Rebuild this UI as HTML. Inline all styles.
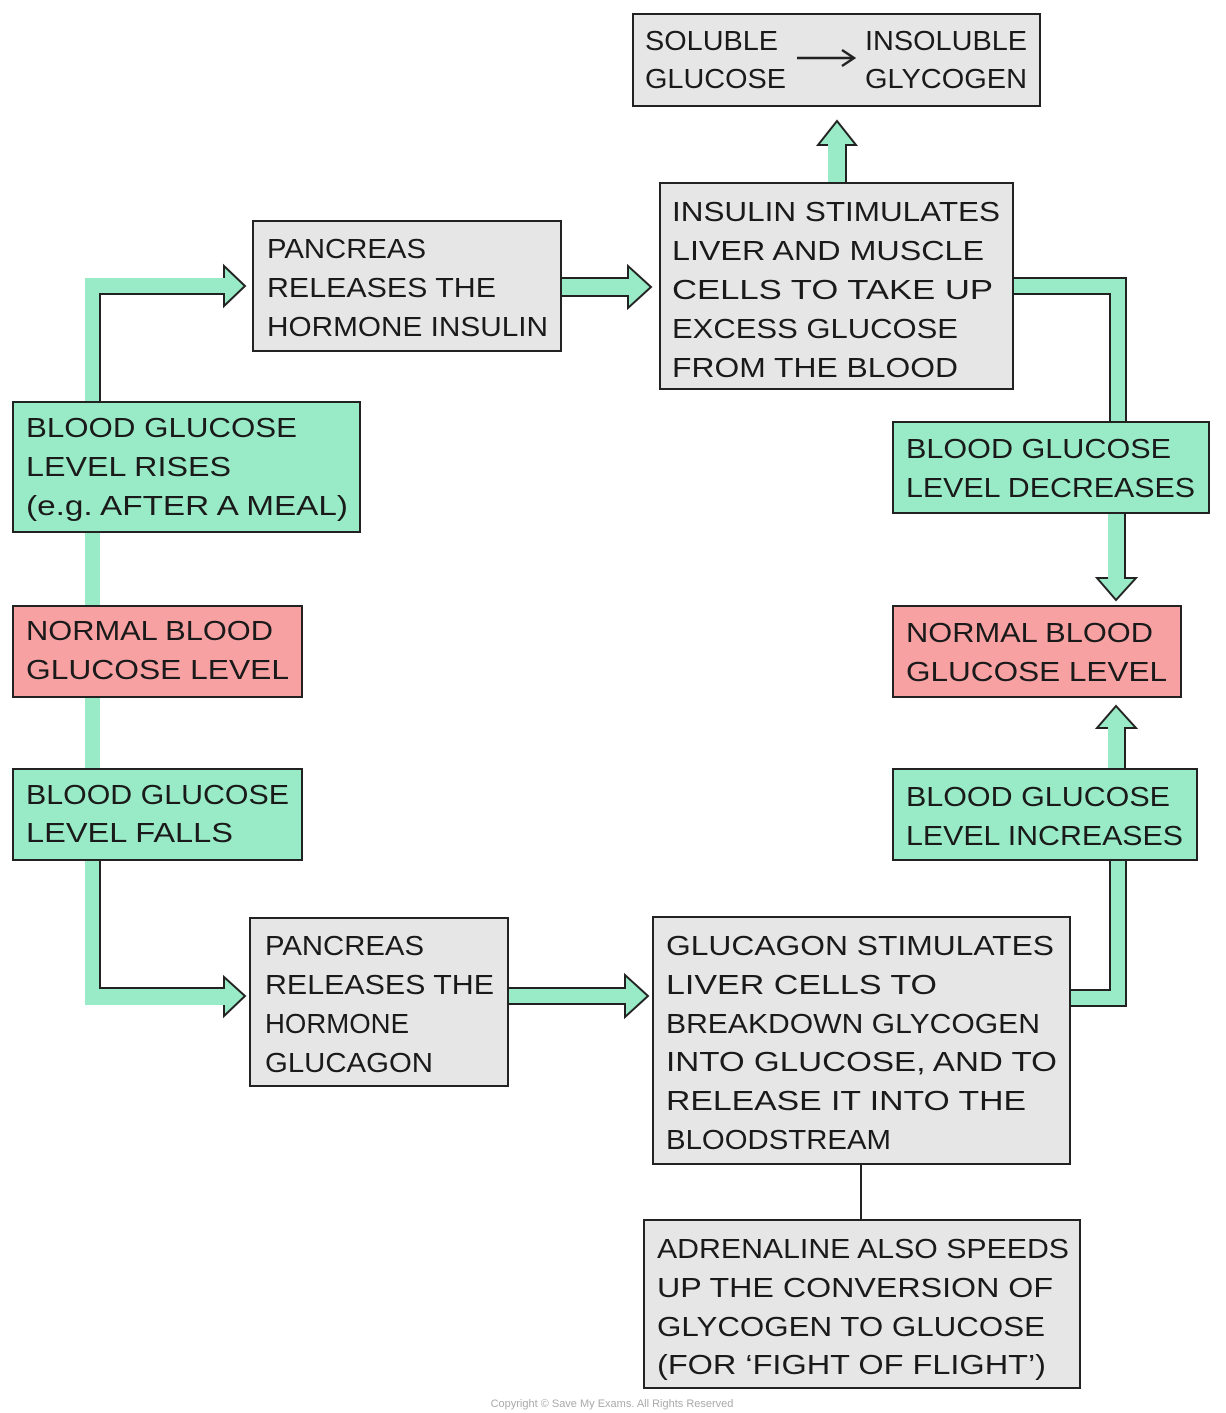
<!DOCTYPE html>
<html><head><meta charset="utf-8"><style>
html,body{margin:0;padding:0;background:#fff;width:1226px;height:1413px;overflow:hidden}
svg{display:block}
text{font-family:"Liberation Sans",sans-serif;font-size:28px;fill:#1a1a1a}
</style></head><body>
<svg width="1226" height="1413" viewBox="0 0 1226 1413" xmlns="http://www.w3.org/2000/svg">
<g fill="#98ebc6" stroke="none">
<!-- left top path -->
<polygon points="85,402 85,278 224,278 224,266 245,286 224,306 224,294 100,294 100,402"/>
<rect x="85" y="532" width="15" height="74"/>
<rect x="85" y="697" width="15" height="72"/>
<polygon points="85,860 85,1005 224,1005 224,1016 245,996 224,977 224,988 100,988 100,860"/>
<!-- pancreas -> insulin -->
<polygon points="561,278 628,278 628,266 651,287 628,308 628,296 561,296"/>
<!-- up to soluble -->
<polygon points="828,183 828,145 818,145 837,121 856,145 846,145 846,183"/>
<!-- right top path -->
<polygon points="1013,278 1126,278 1126,422 1110,422 1110,294 1013,294"/>
<polygon points="1108,513 1108,578 1097,578 1116,600 1136,578 1125,578 1125,513"/>
<polygon points="1108,769 1108,728 1097,728 1116,706 1136,728 1125,728 1125,769"/>
<polygon points="1110,860 1126,860 1126,1006 1070,1006 1070,990 1110,990"/>
<!-- bottom arrow -->
<polygon points="508,988 625,988 625,975 648,996 625,1017 625,1004 508,1004"/>
</g>
<g fill="none" stroke="#222" stroke-width="2">
<polyline points="100,402 100,294 224,294 224,306 245,286 224,266 224,278"/>
<polyline points="100,860 100,988 224,988 224,977 245,996 224,1016 224,1005"/>
<polyline points="561,278 628,278 628,266 651,287 628,308 628,296 561,296"/>
<polyline points="846,183 846,145 856,145 837,121 818,145 828,145"/>
<polyline points="1013,278 1126,278 1126,422"/>
<polyline points="1013,294 1110,294 1110,422"/>
<polyline points="1125,513 1125,578 1136,578 1116,600 1097,578 1108,578"/>
<polyline points="1125,769 1125,728 1136,728 1116,706 1097,728 1108,728"/>
<polyline points="1126,860 1126,1006 1070,1006"/>
<polyline points="1110,860 1110,990 1070,990"/>
<polyline points="508,1004 625,1004 625,1017 648,996 625,975 625,988 508,988"/>
<line x1="861" y1="1164" x2="861" y2="1220"/>
</g>
<g stroke="#222" stroke-width="2">
<rect x="633" y="14" width="407" height="92" fill="#e6e6e6"/>
<rect x="660" y="183" width="353" height="206" fill="#e6e6e6"/>
<rect x="253" y="221" width="308" height="130" fill="#e6e6e6"/>
<rect x="13" y="402" width="347" height="130" fill="#98ebc6"/>
<rect x="13" y="606" width="289" height="91" fill="#f7a1a3"/>
<rect x="13" y="769" width="289" height="91" fill="#98ebc6"/>
<rect x="250" y="918" width="258" height="168" fill="#e6e6e6"/>
<rect x="653" y="917" width="417" height="247" fill="#e6e6e6"/>
<rect x="644" y="1220" width="436" height="168" fill="#e6e6e6"/>
<rect x="893" y="422" width="316" height="91" fill="#98ebc6"/>
<rect x="893" y="606" width="288" height="91" fill="#f7a1a3"/>
<rect x="893" y="769" width="304" height="91" fill="#98ebc6"/>
</g>
<!-- small arrow in soluble box -->
<line x1="797" y1="58" x2="853" y2="58" stroke="#222" stroke-width="2.5"/>
<polyline points="842,50 854,58 842,66" fill="none" stroke="#222" stroke-width="2.5"/>
<g lengthAdjust="spacingAndGlyphs">
<text x="645" y="50" textLength="133" lengthAdjust="spacingAndGlyphs">SOLUBLE</text>
<text x="645" y="88" textLength="141" lengthAdjust="spacingAndGlyphs">GLUCOSE</text>
<text x="865" y="50" textLength="162" lengthAdjust="spacingAndGlyphs">INSOLUBLE</text>
<text x="865" y="88" textLength="162" lengthAdjust="spacingAndGlyphs">GLYCOGEN</text>

<text x="672" y="221" textLength="328" lengthAdjust="spacingAndGlyphs">INSULIN  STIMULATES</text>
<text x="672" y="260" textLength="312" lengthAdjust="spacingAndGlyphs">LIVER  AND  MUSCLE</text>
<text x="672" y="299" textLength="321" lengthAdjust="spacingAndGlyphs">CELLS  TO  TAKE  UP</text>
<text x="672" y="338" textLength="286" lengthAdjust="spacingAndGlyphs">EXCESS  GLUCOSE</text>
<text x="672" y="377" textLength="286" lengthAdjust="spacingAndGlyphs">FROM  THE  BLOOD</text>

<text x="267" y="258" textLength="159" lengthAdjust="spacingAndGlyphs">PANCREAS</text>
<text x="267" y="297" textLength="229" lengthAdjust="spacingAndGlyphs">RELEASES  THE</text>
<text x="267" y="336" textLength="281" lengthAdjust="spacingAndGlyphs">HORMONE  INSULIN</text>

<text x="26" y="437" textLength="271" lengthAdjust="spacingAndGlyphs">BLOOD  GLUCOSE</text>
<text x="26" y="476" textLength="205" lengthAdjust="spacingAndGlyphs">LEVEL  RISES</text>
<text x="26" y="515" textLength="322" lengthAdjust="spacingAndGlyphs">(e.g.  AFTER  A  MEAL)</text>

<text x="26" y="640" textLength="247" lengthAdjust="spacingAndGlyphs">NORMAL  BLOOD</text>
<text x="26" y="679" textLength="263" lengthAdjust="spacingAndGlyphs">GLUCOSE  LEVEL</text>

<text x="26" y="804" textLength="263" lengthAdjust="spacingAndGlyphs">BLOOD  GLUCOSE</text>
<text x="26" y="842" textLength="207" lengthAdjust="spacingAndGlyphs">LEVEL  FALLS</text>

<text x="265" y="955" textLength="159" lengthAdjust="spacingAndGlyphs">PANCREAS</text>
<text x="265" y="994" textLength="229" lengthAdjust="spacingAndGlyphs">RELEASES  THE</text>
<text x="265" y="1033" textLength="144" lengthAdjust="spacingAndGlyphs">HORMONE</text>
<text x="265" y="1072" textLength="168" lengthAdjust="spacingAndGlyphs">GLUCAGON</text>

<text x="666" y="955" textLength="388" lengthAdjust="spacingAndGlyphs">GLUCAGON  STIMULATES</text>
<text x="666" y="994" textLength="271" lengthAdjust="spacingAndGlyphs">LIVER  CELLS  TO</text>
<text x="666" y="1033" textLength="374" lengthAdjust="spacingAndGlyphs">BREAKDOWN  GLYCOGEN</text>
<text x="666" y="1071" textLength="391" lengthAdjust="spacingAndGlyphs">INTO  GLUCOSE,  AND  TO</text>
<text x="666" y="1110" textLength="360" lengthAdjust="spacingAndGlyphs">RELEASE  IT  INTO  THE</text>
<text x="666" y="1149" textLength="225" lengthAdjust="spacingAndGlyphs">BLOODSTREAM</text>

<text x="657" y="1258" textLength="412" lengthAdjust="spacingAndGlyphs">ADRENALINE  ALSO SPEEDS</text>
<text x="657" y="1297" textLength="396" lengthAdjust="spacingAndGlyphs">UP  THE  CONVERSION  OF</text>
<text x="657" y="1336" textLength="388" lengthAdjust="spacingAndGlyphs">GLYCOGEN  TO  GLUCOSE</text>
<text x="657" y="1374" textLength="389" lengthAdjust="spacingAndGlyphs">(FOR  ‘FIGHT  OF  FLIGHT’)</text>

<text x="906" y="458" textLength="265" lengthAdjust="spacingAndGlyphs">BLOOD  GLUCOSE</text>
<text x="906" y="497" textLength="289" lengthAdjust="spacingAndGlyphs">LEVEL  DECREASES</text>

<text x="906" y="642" textLength="247" lengthAdjust="spacingAndGlyphs">NORMAL  BLOOD</text>
<text x="906" y="681" textLength="261" lengthAdjust="spacingAndGlyphs">GLUCOSE  LEVEL</text>

<text x="906" y="806" textLength="264" lengthAdjust="spacingAndGlyphs">BLOOD  GLUCOSE</text>
<text x="906" y="845" textLength="277" lengthAdjust="spacingAndGlyphs">LEVEL  INCREASES</text>
</g>
<text x="612" y="1407" text-anchor="middle" style="font-size:11px;fill:#aaa">Copyright © Save My Exams. All Rights Reserved</text>
</svg>
</body></html>
